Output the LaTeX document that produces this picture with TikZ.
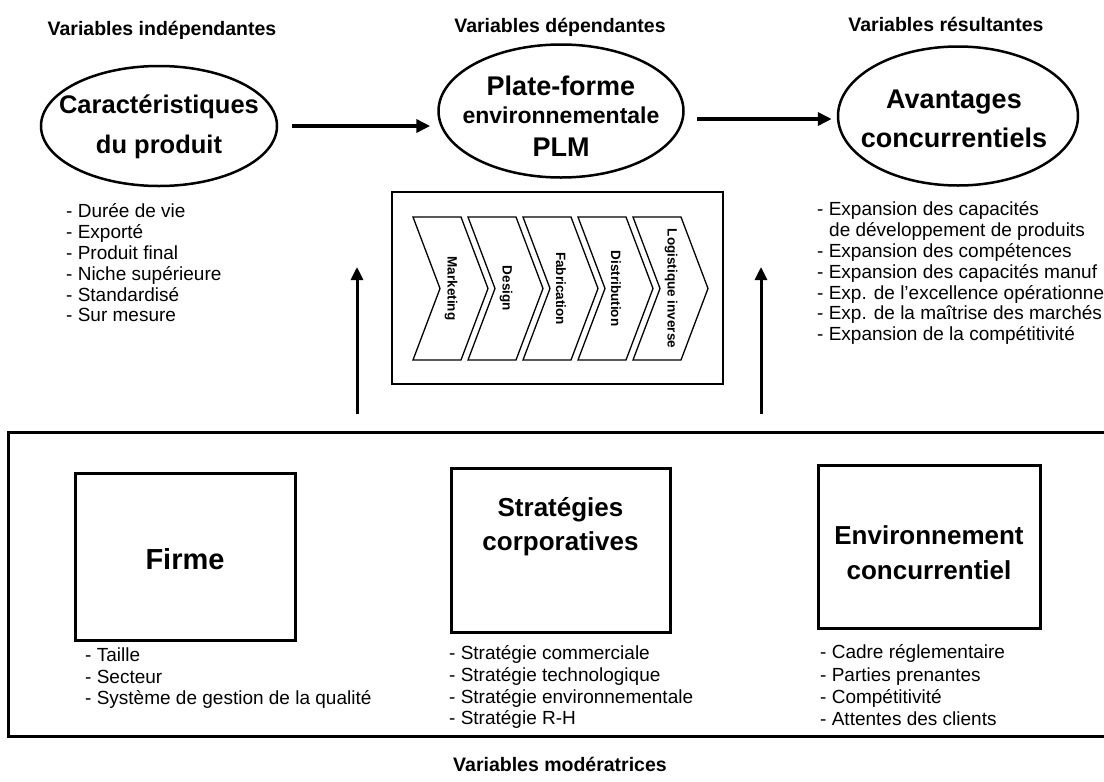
\documentclass[tikz,border=0pt]{standalone}
\usepackage{fontspec}
\setmainfont{Liberation Sans}
\usetikzlibrary{arrows.meta,shapes.geometric}
\begin{document}
\begin{tikzpicture}[x=1pt,y=-1pt,
  hdr/.style={anchor=base, inner sep=0, font=\fontsize{19.5}{22}\selectfont\bfseries},
  big/.style={anchor=base, inner sep=0, font=\fontsize{25.5}{30}\selectfont\bfseries},
  mid/.style={anchor=base, inner sep=0, font=\fontsize{23}{25}\selectfont\bfseries},
  item/.style={anchor=base west, inner sep=0, font=\fontsize{19}{21.5}\selectfont},
  ell/.style={draw, ellipse, line width=2.5pt, inner sep=0},
  box/.style={draw, line width=3pt, inner sep=0},
  chev/.style={draw, line width=1.3pt, line join=miter},
  chevtxt/.style={rotate=-90, inner sep=0, font=\fontsize{13.5}{16}\selectfont\bfseries},
  harr/.style={line width=4pt, -{Triangle[length=14pt,width=13pt]}},
  varr/.style={line width=3pt, -{Triangle[length=13pt,width=12pt]}}]
\useasboundingbox (0,0) rectangle (1104,782);
\fill[white] (0,0) rectangle (1104,782);

% headers
\node[hdr] (h1) at (162,35) {Variables indépendantes};
\node[hdr] (h2) at (560,32) {Variables dépendantes};
\node[hdr] (h3) at (946,31) {Variables résultantes};
\node[hdr] (h4) at (560,771) {Variables modératrices};

% ellipses
\node[ell, minimum width=236pt, minimum height=120pt] (e1) at (159,126) {};
\node[ell, minimum width=245pt, minimum height=133pt] (e2) at (561,111) {};
\node[ell, minimum width=240pt, minimum height=139pt] (e3) at (958,116) {};

\node[big] (t1a) at (159,113) {Caractéristiques};
\node[big] (t1b) at (159,153) {du produit};
\node[big, font=\fontsize{27}{30}\selectfont\bfseries] (t2a) at (561,95) {Plate-forme};
\node[mid] (t2b) at (561,123) {environnementale};
\node[big, font=\fontsize{27}{30}\selectfont\bfseries] (t2c) at (561,156) {PLM};
\node[big, font=\fontsize{27}{30}\selectfont\bfseries] (t3a) at (954,108) {Avantages};
\node[big, font=\fontsize{27}{30}\selectfont\bfseries] (t3b) at (954,147) {concurrentiels};

% horizontal arrows
\coordinate (a1s) at (292,126);
\coordinate (a2s) at (697,119);
\draw[harr, shorten >=7pt] (a1s) -- (a1s -| e2.west);
\draw[harr, shorten >=5pt] (a2s) -- (a2s -| e3.west);

% top lists
\node[item] (l1-1) at (66,217) {- Durée de vie};
\node[item] (l1-2) at (66,238) {- Exporté};
\node[item] (l1-3) at (66,259) {- Produit final};
\node[item] (l1-4) at (66,280) {- Niche supérieure};
\node[item] (l1-5) at (66,301) {- Standardisé};
\node[item] (l1-6) at (66,321) {- Sur mesure};

\node[item] (l3-1) at (817,215) {- Expansion des capacités};
\node[item] (l3-2) at (829,236) {de développement de produits};
\node[item] (l3-3) at (817,257) {- Expansion des compétences};
\node[item] (l3-4) at (817,278) {- Expansion des capacités manuf};
\node[item] (l3-5) at (817,299) {- Exp. de l’excellence opérationne};
\node[item] (l3-6) at (817,319) {- Exp. de la maîtrise des marchés};
\node[item] (l3-7) at (817,340) {- Expansion de la compétitivité};

% PLM chain box
\node[draw, line width=2pt, inner sep=0, minimum width=331pt, minimum height=192pt] (plm) at (557.5,288) {};
\foreach \i/\t in {0/Marketing,1/Design,2/Fabrication,3/Distribution,4/Logistique inverse}{
  \pgfmathsetmacro\xo{413+55*\i}
  \draw[chev] (\xo,217) -- ++(48,0) -- ++(27,71.5) -- ++(-27,71.5) -- ++(-48,0) -- ++(27,-71.5) -- cycle;
  \node[chevtxt] (ch\i) at (\xo+38,288.5) {\t};
}

% vertical arrows
\coordinate (v1s) at (357,414);
\coordinate (v1e) at (357,267);
\coordinate (v2s) at (761,414);
\coordinate (v2e) at (761,267);
\draw[varr] (v1s) -- (v1e);
\draw[varr] (v2s) -- (v2e);

% moderating frame
\node[box, minimum width=1102pt, minimum height=304pt] (mod) at (559.5,584) {};

% inner boxes
\node[box, minimum width=220pt, minimum height=167pt] (b1) at (185,556.5) {};
\node[box, minimum width=219pt, minimum height=164pt] (b2) at (560.5,550) {};
\node[box, minimum width=222pt, minimum height=163pt] (b3) at (929,546.5) {};

\node[big, font=\fontsize{29}{30}\selectfont\bfseries] (b1t) at (185,569) {Firme};
\node[big, font=\fontsize{26}{30}\selectfont\bfseries] (b2ta) at (560.5,516) {Stratégies};
\node[big, font=\fontsize{26}{30}\selectfont\bfseries] (b2tb) at (560.5,550) {corporatives};
\node[big, font=\fontsize{26}{30}\selectfont\bfseries] (b3ta) at (929,544) {Environnement};
\node[big, font=\fontsize{26}{30}\selectfont\bfseries] (b3tb) at (929,579) {concurrentiel};

% bottom lists
\node[item] (m1-1) at (85,661.5) {- Taille};
\node[item] (m1-2) at (85,683) {- Secteur};
\node[item] (m1-3) at (85,704.5) {- Système de gestion de la qualité};

\node[item] (m2-1) at (449,659.5) {- Stratégie commerciale};
\node[item] (m2-2) at (449,681) {- Stratégie technologique};
\node[item] (m2-3) at (449,703) {- Stratégie environnementale};
\node[item] (m2-4) at (449,724.5) {- Stratégie R-H};

\node[item] (m3-1) at (820,658.5) {- Cadre réglementaire};
\node[item] (m3-2) at (820,681) {- Parties prenantes};
\node[item] (m3-3) at (820,703) {- Compétitivité};
\node[item] (m3-4) at (820,725) {- Attentes des clients};
\end{tikzpicture}
\end{document}
